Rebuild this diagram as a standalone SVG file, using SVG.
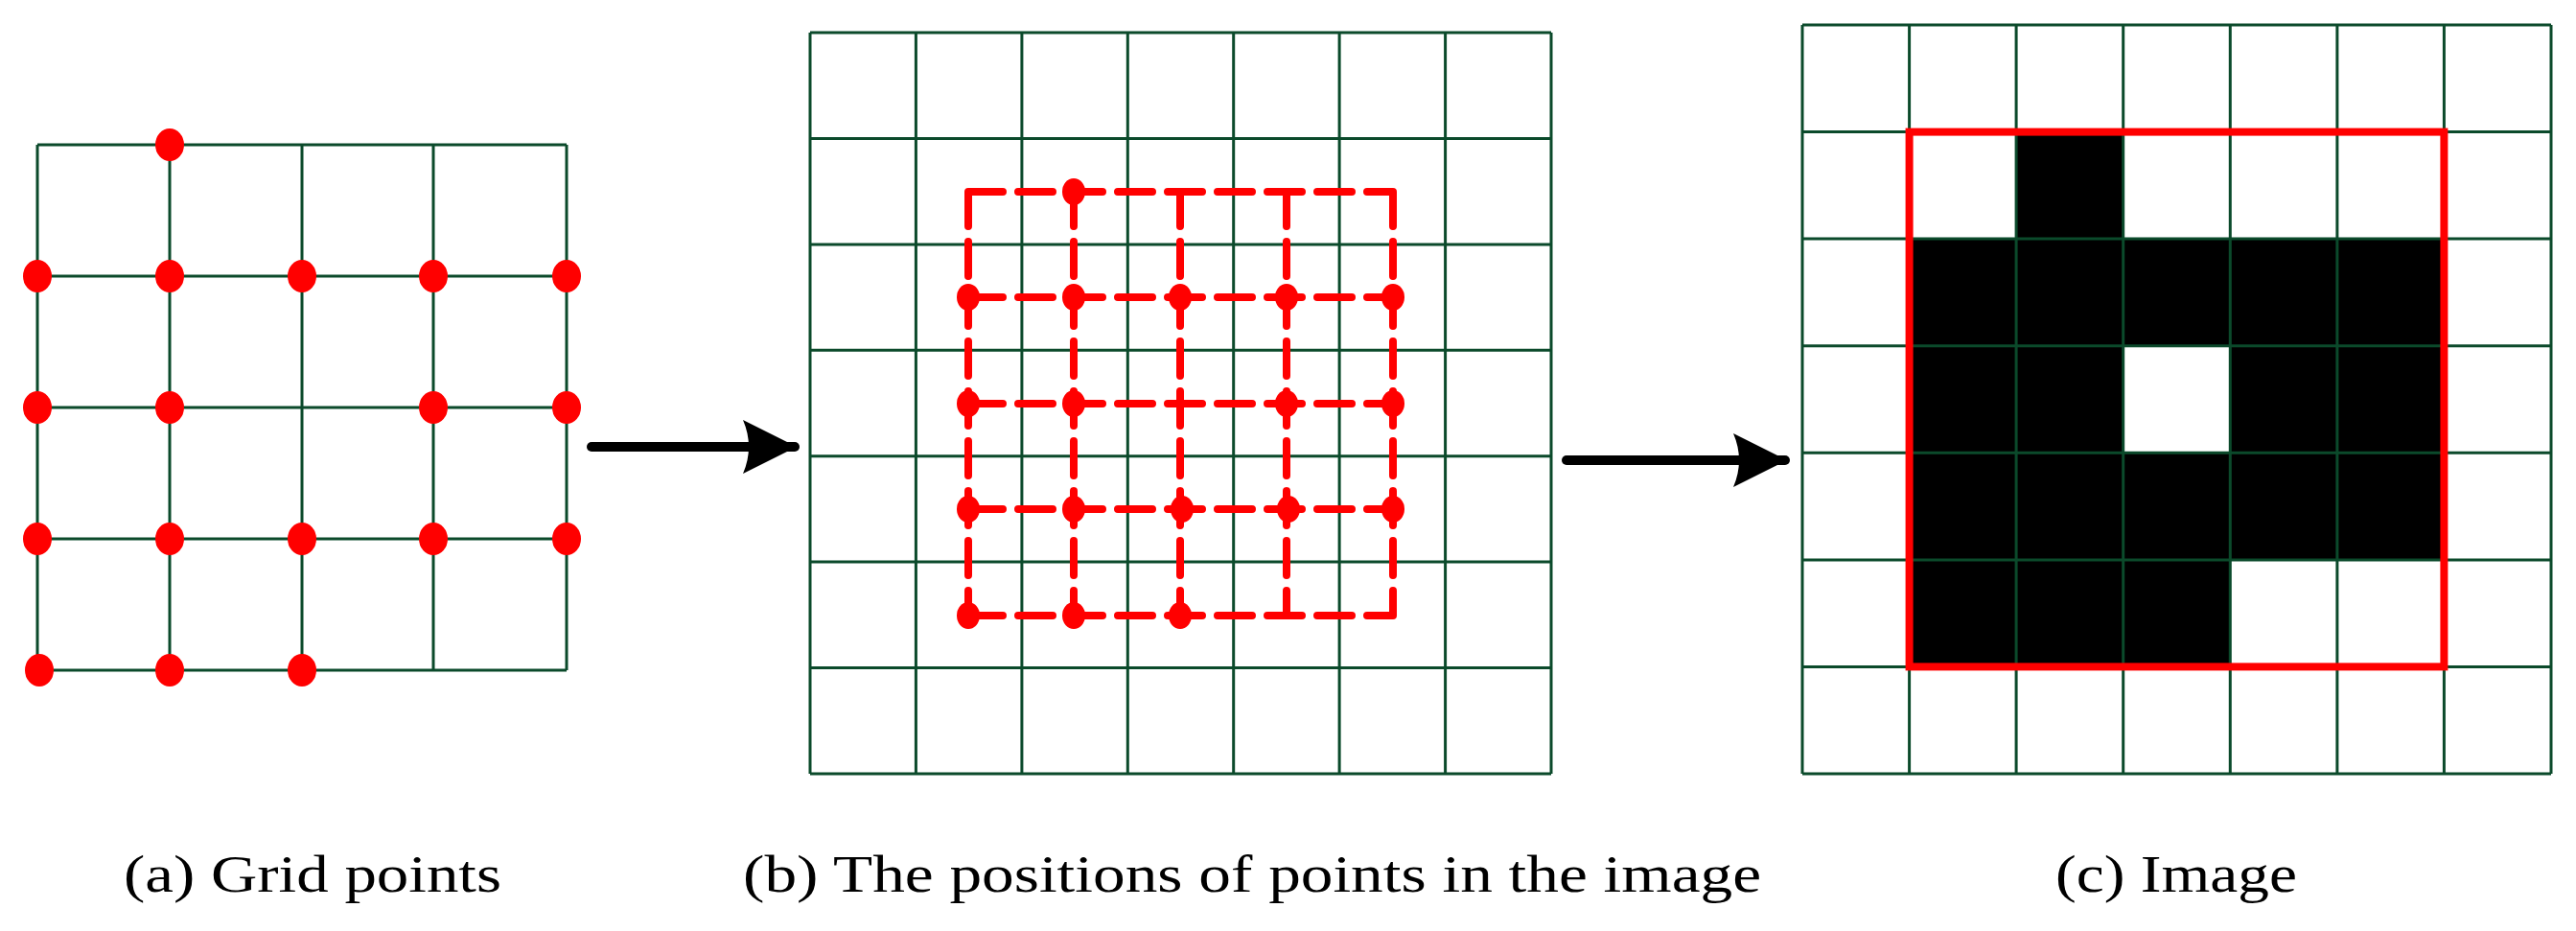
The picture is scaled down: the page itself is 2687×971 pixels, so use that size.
<svg xmlns="http://www.w3.org/2000/svg" width="2687" height="971" viewBox="0 0 2687 971">
<style>
.g{stroke:#0b4a2b;stroke-width:3;fill:none}
.dot{fill:#ff0000}
.rd{stroke:#ff0000;stroke-width:8;fill:none;stroke-dasharray:36 16;stroke-linecap:round}
.t{font-family:"Liberation Serif","DejaVu Serif",serif;font-size:54px;fill:#000}
.ar{stroke:#000;stroke-width:10;stroke-linecap:round}
</style>
<defs>
<marker id="ah" viewBox="0 0 60 60" refX="54" refY="30" markerWidth="60" markerHeight="60" markerUnits="userSpaceOnUse" orient="auto">
<path d="M0,2 L56,30 L0,58 Q12,30 0,2 Z" fill="#000"/>
</marker>
</defs>
<rect width="2687" height="971" fill="#fff"/>
<g id="panel-a">
<path class="g" d="M39,151H591M39,288H591M39,425H591M39,562H591M39,699H591M39,151V699M177,151V699M315,151V699M452,151V699M591,151V699"/>
<g class="dot">
<ellipse cx="177" cy="151" rx="15" ry="17"/>
<ellipse cx="39" cy="288" rx="15" ry="17"/><ellipse cx="177" cy="288" rx="15" ry="17"/><ellipse cx="315" cy="288" rx="15" ry="17"/><ellipse cx="452" cy="288" rx="15" ry="17"/><ellipse cx="591" cy="288" rx="15" ry="17"/>
<ellipse cx="39" cy="425" rx="15" ry="17"/><ellipse cx="177" cy="425" rx="15" ry="17"/><ellipse cx="452" cy="425" rx="15" ry="17"/><ellipse cx="591" cy="425" rx="15" ry="17"/>
<ellipse cx="39" cy="562" rx="15" ry="17"/><ellipse cx="177" cy="562" rx="15" ry="17"/><ellipse cx="315" cy="562" rx="15" ry="17"/><ellipse cx="452" cy="562" rx="15" ry="17"/><ellipse cx="591" cy="562" rx="15" ry="17"/>
<ellipse cx="41" cy="699" rx="15" ry="17"/><ellipse cx="177" cy="699" rx="15" ry="17"/><ellipse cx="315" cy="699" rx="15" ry="17"/>
</g>
<text class="t" x="326" y="930" text-anchor="middle" textLength="394" lengthAdjust="spacingAndGlyphs">(a) Grid points</text>
</g>
<g id="panel-b">
<path class="g" d="M845,34H1618M845,144.4H1618M845,254.9H1618M845,365.3H1618M845,475.7H1618M845,586.1H1618M845,696.6H1618M845,807H1618M845,34V807M955.4,34V807M1065.9,34V807M1176.3,34V807M1286.7,34V807M1397.1,34V807M1507.6,34V807M1618,34V807"/>
<path class="rd" d="M1010,200H1453M1010,310H1453M1010,421H1453M1010,531H1453M1010,642H1453M1010,200V642M1120,200V642M1231,200V642M1342,200V642M1453,200V642"/>
<g class="dot">
<ellipse cx="1120" cy="200" rx="12" ry="14"/>
<ellipse cx="1010" cy="310" rx="12" ry="14"/><ellipse cx="1120" cy="310" rx="12" ry="14"/><ellipse cx="1231" cy="310" rx="12" ry="14"/><ellipse cx="1342" cy="310" rx="12" ry="14"/><ellipse cx="1453" cy="310" rx="12" ry="14"/>
<ellipse cx="1010" cy="421" rx="12" ry="14"/><ellipse cx="1120" cy="421" rx="12" ry="14"/><ellipse cx="1342" cy="421" rx="12" ry="14"/><ellipse cx="1453" cy="421" rx="12" ry="14"/>
<ellipse cx="1010" cy="531" rx="12" ry="14"/><ellipse cx="1120" cy="531" rx="12" ry="14"/><ellipse cx="1233" cy="531" rx="12" ry="14"/><ellipse cx="1344" cy="531" rx="12" ry="14"/><ellipse cx="1453" cy="531" rx="12" ry="14"/>
<ellipse cx="1010" cy="642" rx="12" ry="14"/><ellipse cx="1120" cy="642" rx="12" ry="14"/><ellipse cx="1231" cy="642" rx="12" ry="14"/>
</g>
<text class="t" x="1306" y="930" text-anchor="middle" textLength="1062" lengthAdjust="spacingAndGlyphs">(b) The positions of points in the image</text>
</g>
<g id="panel-c">
<g fill="#000">
<rect x="2103" y="138" width="112" height="112"/>
<rect x="1992" y="250" width="558" height="112"/>
<rect x="1992" y="362" width="223" height="111"/>
<rect x="2327" y="362" width="223" height="111"/>
<rect x="1992" y="473" width="558" height="112"/>
<rect x="1992" y="585" width="335" height="111"/>
</g>
<path class="g" d="M1880,26H2661M1880,137.6H2661M1880,249.1H2661M1880,360.7H2661M1880,472.3H2661M1880,583.9H2661M1880,695.4H2661M1880,807H2661M1880,26V807M1991.6,26V807M2103.1,26V807M2214.7,26V807M2326.3,26V807M2437.9,26V807M2549.4,26V807M2661,26V807"/>
<rect x="1991.6" y="137.6" width="557.8" height="557.8" fill="none" stroke="#ff0000" stroke-width="8"/>
<text class="t" x="2270" y="930" text-anchor="middle" textLength="252" lengthAdjust="spacingAndGlyphs">(c) Image</text>
</g>
<g id="connectors">
<line class="ar" x1="617" y1="466" x2="829" y2="466" marker-end="url(#ah)"/>
<line class="ar" x1="1634" y1="480" x2="1862" y2="480" marker-end="url(#ah)"/>
</g>
</svg>
